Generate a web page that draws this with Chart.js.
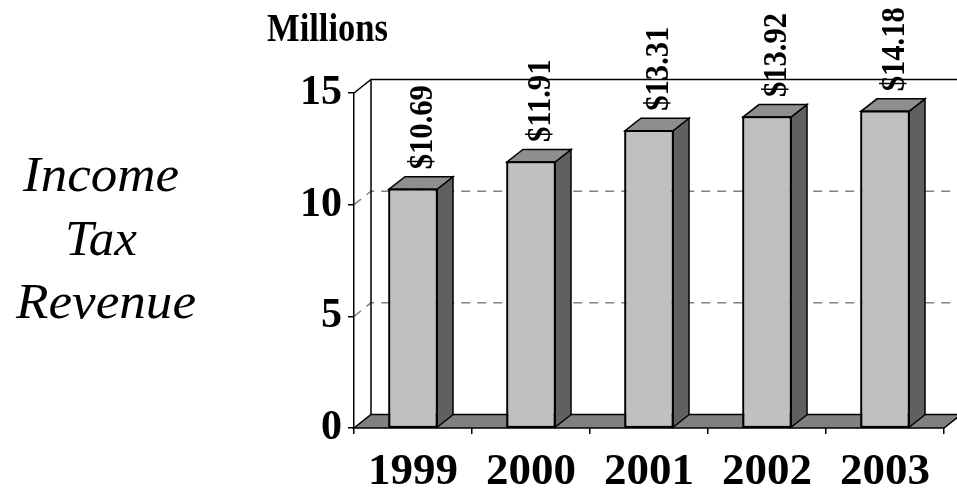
<!DOCTYPE html>
<html>
<head>
<meta charset="utf-8">
<title>Income Tax Revenue</title>
<script src="https://cdn.jsdelivr.net/npm/chart.js@4/dist/chart.umd.min.js"></script>
<style>
  html, body { margin: 0; padding: 0; background: #fff; }
  canvas { display: block; }
</style>
</head>
<body>
<canvas id="c" width="957" height="491"></canvas>
<script>
// Income tax revenue by year, in millions of dollars
const categories = ['1999', '2000', '2001', '2002', '2003'];
const revenue = [10.69, 11.91, 13.31, 13.92, 14.18];
const yTicks = [0, 5, 10, 15];

const SERIF = '"Liberation Serif", "Times New Roman", Times, serif';
const WALL_DX = 17;    // depth of walls and floor, horizontal
const WALL_DY = -13.5; // depth of walls and floor, vertical
const BAR_DX = 16;     // depth of each column, horizontal
const BAR_DY = -12.5;  // depth of each column, vertical

const COLORS = {
  front: '#c0c0c0',
  top: '#8e8e8e',
  side: '#606060',
  floor: '#808080',
  grid: '#808080',
  line: '#000000'
};

// Draw text stretched/condensed to a given width, centred on cx
function fittedText(ctx, text, cx, baseline, font, width) {
  ctx.save();
  ctx.font = font;
  const w = ctx.measureText(text).width;
  const s = width / w;
  ctx.translate(cx, baseline);
  ctx.scale(s, 1);
  ctx.textAlign = 'center';
  ctx.textBaseline = 'alphabetic';
  ctx.fillStyle = '#000';
  ctx.fillText(text, 0, 0);
  ctx.restore();
}

function poly(ctx, pts, fill) {
  ctx.beginPath();
  ctx.moveTo(pts[0][0], pts[0][1]);
  for (let i = 1; i < pts.length; i++) ctx.lineTo(pts[i][0], pts[i][1]);
  ctx.closePath();
  if (fill) { ctx.fillStyle = fill; ctx.fill(); }
  ctx.stroke();
}

// Walls, gridlines, floor and captions behind the bars
const walls3d = {
  id: 'walls3d',
  beforeDraw(chart) {
    const { ctx, chartArea: a } = chart;
    const ys = chart.scales.y;
    ctx.save();
    ctx.fillStyle = '#fff';
    ctx.fillRect(0, 0, chart.width, chart.height);

    const yMax = ys.getPixelForValue(ys.max);
    const yMin = ys.getPixelForValue(ys.min);
    const bl = a.left + WALL_DX;
    const br = a.right + WALL_DX;

    // dashed gridlines on side wall and back wall
    ctx.strokeStyle = COLORS.grid;
    ctx.lineWidth = 1.5;
    ctx.setLineDash([9, 7]);
    ys.ticks.forEach(t => {
      if (t.value === ys.min || t.value === ys.max) return;
      const py = ys.getPixelForValue(t.value);
      ctx.beginPath();
      ctx.moveTo(a.left, py);
      ctx.lineTo(bl, py + WALL_DY);
      ctx.lineTo(br, py + WALL_DY);
      ctx.stroke();
    });
    ctx.setLineDash([]);

    // wall outline
    ctx.strokeStyle = COLORS.line;
    ctx.lineWidth = 1.5;
    ctx.beginPath();
    ctx.moveTo(a.left, yMax);
    ctx.lineTo(bl, yMax + WALL_DY);
    ctx.lineTo(br, yMax + WALL_DY);
    ctx.moveTo(bl, yMax + WALL_DY);
    ctx.lineTo(bl, yMin + WALL_DY);
    ctx.stroke();

    // floor
    poly(ctx, [[a.left, yMin], [a.right, yMin], [br, yMin + WALL_DY], [bl, yMin + WALL_DY]], COLORS.floor);

    // captions
    fittedText(ctx, 'Millions', 327.5, 41, 'bold 41px ' + SERIF, 121);
    fittedText(ctx, 'Income', 101, 191, 'italic 50px ' + SERIF, 156);
    fittedText(ctx, 'Tax', 101, 255, 'italic 50px ' + SERIF, 72);
    fittedText(ctx, 'Revenue', 106, 318, 'italic 50px ' + SERIF, 180);
    ctx.restore();
  }
};

// Top and side faces of each column, plus rotated value labels
const bars3d = {
  id: 'bars3d',
  afterDatasetsDraw(chart) {
    const { ctx } = chart;
    const meta = chart.getDatasetMeta(0);
    ctx.save();
    ctx.strokeStyle = COLORS.line;
    ctx.lineWidth = 1.5;
    ctx.lineJoin = 'miter';
    meta.data.forEach((bar, i) => {
      const { x, y, base, width } = bar.getProps(['x', 'y', 'base', 'width'], true);
      const x0 = x - width / 2;
      const x1 = x + width / 2;
      poly(ctx, [[x1, y], [x1 + BAR_DX, y + BAR_DY], [x1 + BAR_DX, base + BAR_DY], [x1, base]], COLORS.side);
      poly(ctx, [[x0, y], [x1, y], [x1 + BAR_DX, y + BAR_DY], [x0 + BAR_DX, y + BAR_DY]], COLORS.top);
      poly(ctx, [[x0, y], [x1, y], [x1, base], [x0, base]], null);

      // value label, reading bottom to top
      ctx.save();
      ctx.translate(x + BAR_DX / 2 + 2, y - 20);
      ctx.rotate(-Math.PI / 2);
      ctx.scale(0.9, 1);
      ctx.font = 'bold 34px ' + SERIF;
      ctx.fillStyle = '#000';
      ctx.textAlign = 'left';
      ctx.textBaseline = 'middle';
      ctx.fillText('$' + revenue[i].toFixed(2), 0, 0);
      ctx.restore();
    });
    ctx.restore();
  }
};

new Chart(document.getElementById('c'), {
  type: 'bar',
  data: {
    labels: categories,
    datasets: [{
      data: revenue,
      backgroundColor: COLORS.front,
      borderColor: COLORS.line,
      borderWidth: 1.5,
      borderSkipped: false,
      barPercentage: 0.407,
      categoryPercentage: 1
    }]
  },
  options: {
    responsive: false,
    animation: false,
    devicePixelRatio: 1,
    layout: { padding: { top: 93, right: 13, left: 0, bottom: 0 } },
    plugins: { legend: { display: false }, tooltip: { enabled: false } },
    scales: {
      x: {
        offset: true,
        grid: { offset: true, drawOnChartArea: false, drawTicks: true, tickLength: 6, color: COLORS.line, lineWidth: 1.5 },
        border: { display: false },
        ticks: { color: '#000', padding: 11, font: { family: SERIF, size: 45, weight: 'bold' } },
        afterFit(s) { s.height = 63; }
      },
      y: {
        min: 0,
        max: 15,
        afterBuildTicks(s) { s.ticks = yTicks.map(v => ({ value: v })); },
        grid: { drawOnChartArea: false, drawTicks: true, tickLength: 6, color: COLORS.line, lineWidth: 1.5 },
        border: { display: true, color: COLORS.line, width: 1.5 },
        ticks: { color: '#000', padding: 6, font: { family: SERIF, size: 42, weight: 'bold' } },
        afterFit(s) { s.width = 354; }
      }
    }
  },
  plugins: [walls3d, bars3d]
});
</script>
</body>
</html>
